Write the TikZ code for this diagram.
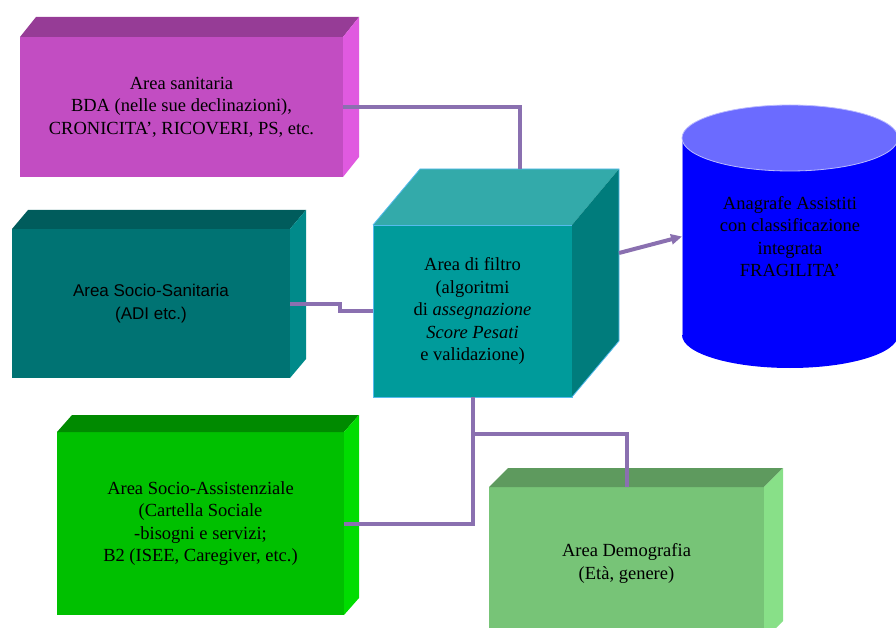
\documentclass[tikz,border=0pt]{standalone}
\usepackage{fontspec}
\setmainfont{Liberation Serif}
\setsansfont{Liberation Sans}
\usetikzlibrary{calc,arrows.meta}
\definecolor{magF}{HTML}{C24DC2}
\definecolor{magT}{HTML}{963C96}
\definecolor{magS}{HTML}{E05AE0}
\definecolor{tealF}{HTML}{007373}
\definecolor{tealT}{HTML}{005C5C}
\definecolor{tealS}{HTML}{008A8A}
\definecolor{cubeF}{HTML}{009B9B}
\definecolor{cubeT}{HTML}{33AAAA}
\definecolor{cubeS}{HTML}{007C7C}
\definecolor{cubeE}{HTML}{55BBEE}
\definecolor{grnF}{HTML}{00C000}
\definecolor{grnT}{HTML}{008A00}
\definecolor{grnS}{HTML}{00DD00}
\definecolor{demF}{HTML}{77C477}
\definecolor{demT}{HTML}{5E9A5E}
\definecolor{demS}{HTML}{88E088}
\definecolor{cylB}{HTML}{0000FF}
\definecolor{cylT}{HTML}{6B6BFF}
\definecolor{cylE}{HTML}{8C8CFF}
\definecolor{link}{HTML}{8A70B0}
\newcommand{\prismfaces}[5]{%
  \fill[#4] (#1.north west) -- ++(#2,-#3) -- ($(#1.north east)+(#2,-#3)$) -- (#1.north east) -- cycle;
  \fill[#5] (#1.north east) -- ++(#2,-#3) -- ($(#1.south east)+(#2,-#3)$) -- (#1.south east) -- cycle;
}
\tikzset{
  front/.style={inner sep=0pt, outer sep=0pt, align=center, text=black,
    font=\fontsize{18.5}{22.5}\selectfont},
  connector/.style={draw=link, line width=4pt},
}
\begin{document}
\begin{tikzpicture}[x=1pt,y=-1pt]
\useasboundingbox (0,0) rectangle (896,628);
\clip (0,0) rectangle (896,628);

% Area sanitaria
\node[front, fill=magF, minimum width=323pt, minimum height=140pt] (sanit) at (181.5,107)
  {Area sanitaria\\BDA (nelle sue declinazioni),\\CRONICITA’, RICOVERI, PS, etc.};
\prismfaces{sanit}{16}{20}{magT}{magS}

% Area Socio-Sanitaria
\node[front, fill=tealF, minimum width=278pt, minimum height=149pt,
  font=\sffamily\fontsize{17}{22.5}\selectfont] (socsan) at (151,303.5)
  {Area Socio-Sanitaria\\(ADI etc.)};
\prismfaces{socsan}{16}{19}{tealT}{tealS}

% Area di filtro (cube)
\node[front, fill=cubeF, draw=cubeE, line width=0.8pt, minimum width=199pt, minimum height=172pt] (cube) at (472.5,311)
  {Area di filtro\\(algoritmi\\di \textit{assegnazione}\\\textit{Score Pesati}\\e validazione)};
\prismfaces{cube}{47}{56}{cubeT}{cubeS}
\draw[cubeE, line width=0.8pt] (cube.north west) -- ++(47,-56) -- ($(cube.north east)+(47,-56)$) -- ($(cube.south east)+(47,-56)$) -- (cube.south east);
\coordinate (cubetop) at ($(cube.north)+(47,-56)$);
\coordinate (cubeside) at ($(cube.east)+(47,-58)$);

% Area Socio-Assistenziale
\node[front, fill=grnF, minimum width=287pt, minimum height=183pt] (socass) at (200.5,523.5)
  {Area Socio-Assistenziale\\(Cartella Sociale\\-bisogni e servizi;\\B2 (ISEE, Caregiver, etc.)};
\prismfaces{socass}{15}{17}{grnT}{grnS}

% Area Demografia
\node[front, fill=demF, minimum width=275pt, minimum height=153pt] (demo) at (626.5,563.5)
  {Area Demografia\\(Età, genere)};
\prismfaces{demo}{19}{19}{demT}{demS}

% Cylinder (Anagrafe)
\fill[cylB] (682,138) rectangle (898,335);
\fill[cylB] (790,335) ellipse [x radius=108, y radius=33];
\draw[cylE, line width=0.8pt] (682,138) -- (682,335);
\fill[cylT] (790,138) ellipse [x radius=108, y radius=33];
\draw[cylE!60!white, line width=0.8pt] (790,138) ellipse [x radius=108, y radius=33];
\node[front, minimum width=216pt, minimum height=263pt] (db) at (790,236.5)
  {Anagrafe Assistiti\\con classificazione\\integrata\\FRAGILITA’};

% Connectors
\draw[connector] (sanit.east) -| (cubetop);
\draw[connector] (socsan.east) -- ++(50,0) |- (cube.west);
\draw[connector] (cube.south) |- (socass.east);
\coordinate (branch) at ($(cube.south)+(0,37)$);
\draw[connector] (branch) -| (demo.north);
\draw[connector, -{Triangle[length=11pt,width=10pt]}] (cubeside) -- (db.west);
\end{tikzpicture}
\end{document}
